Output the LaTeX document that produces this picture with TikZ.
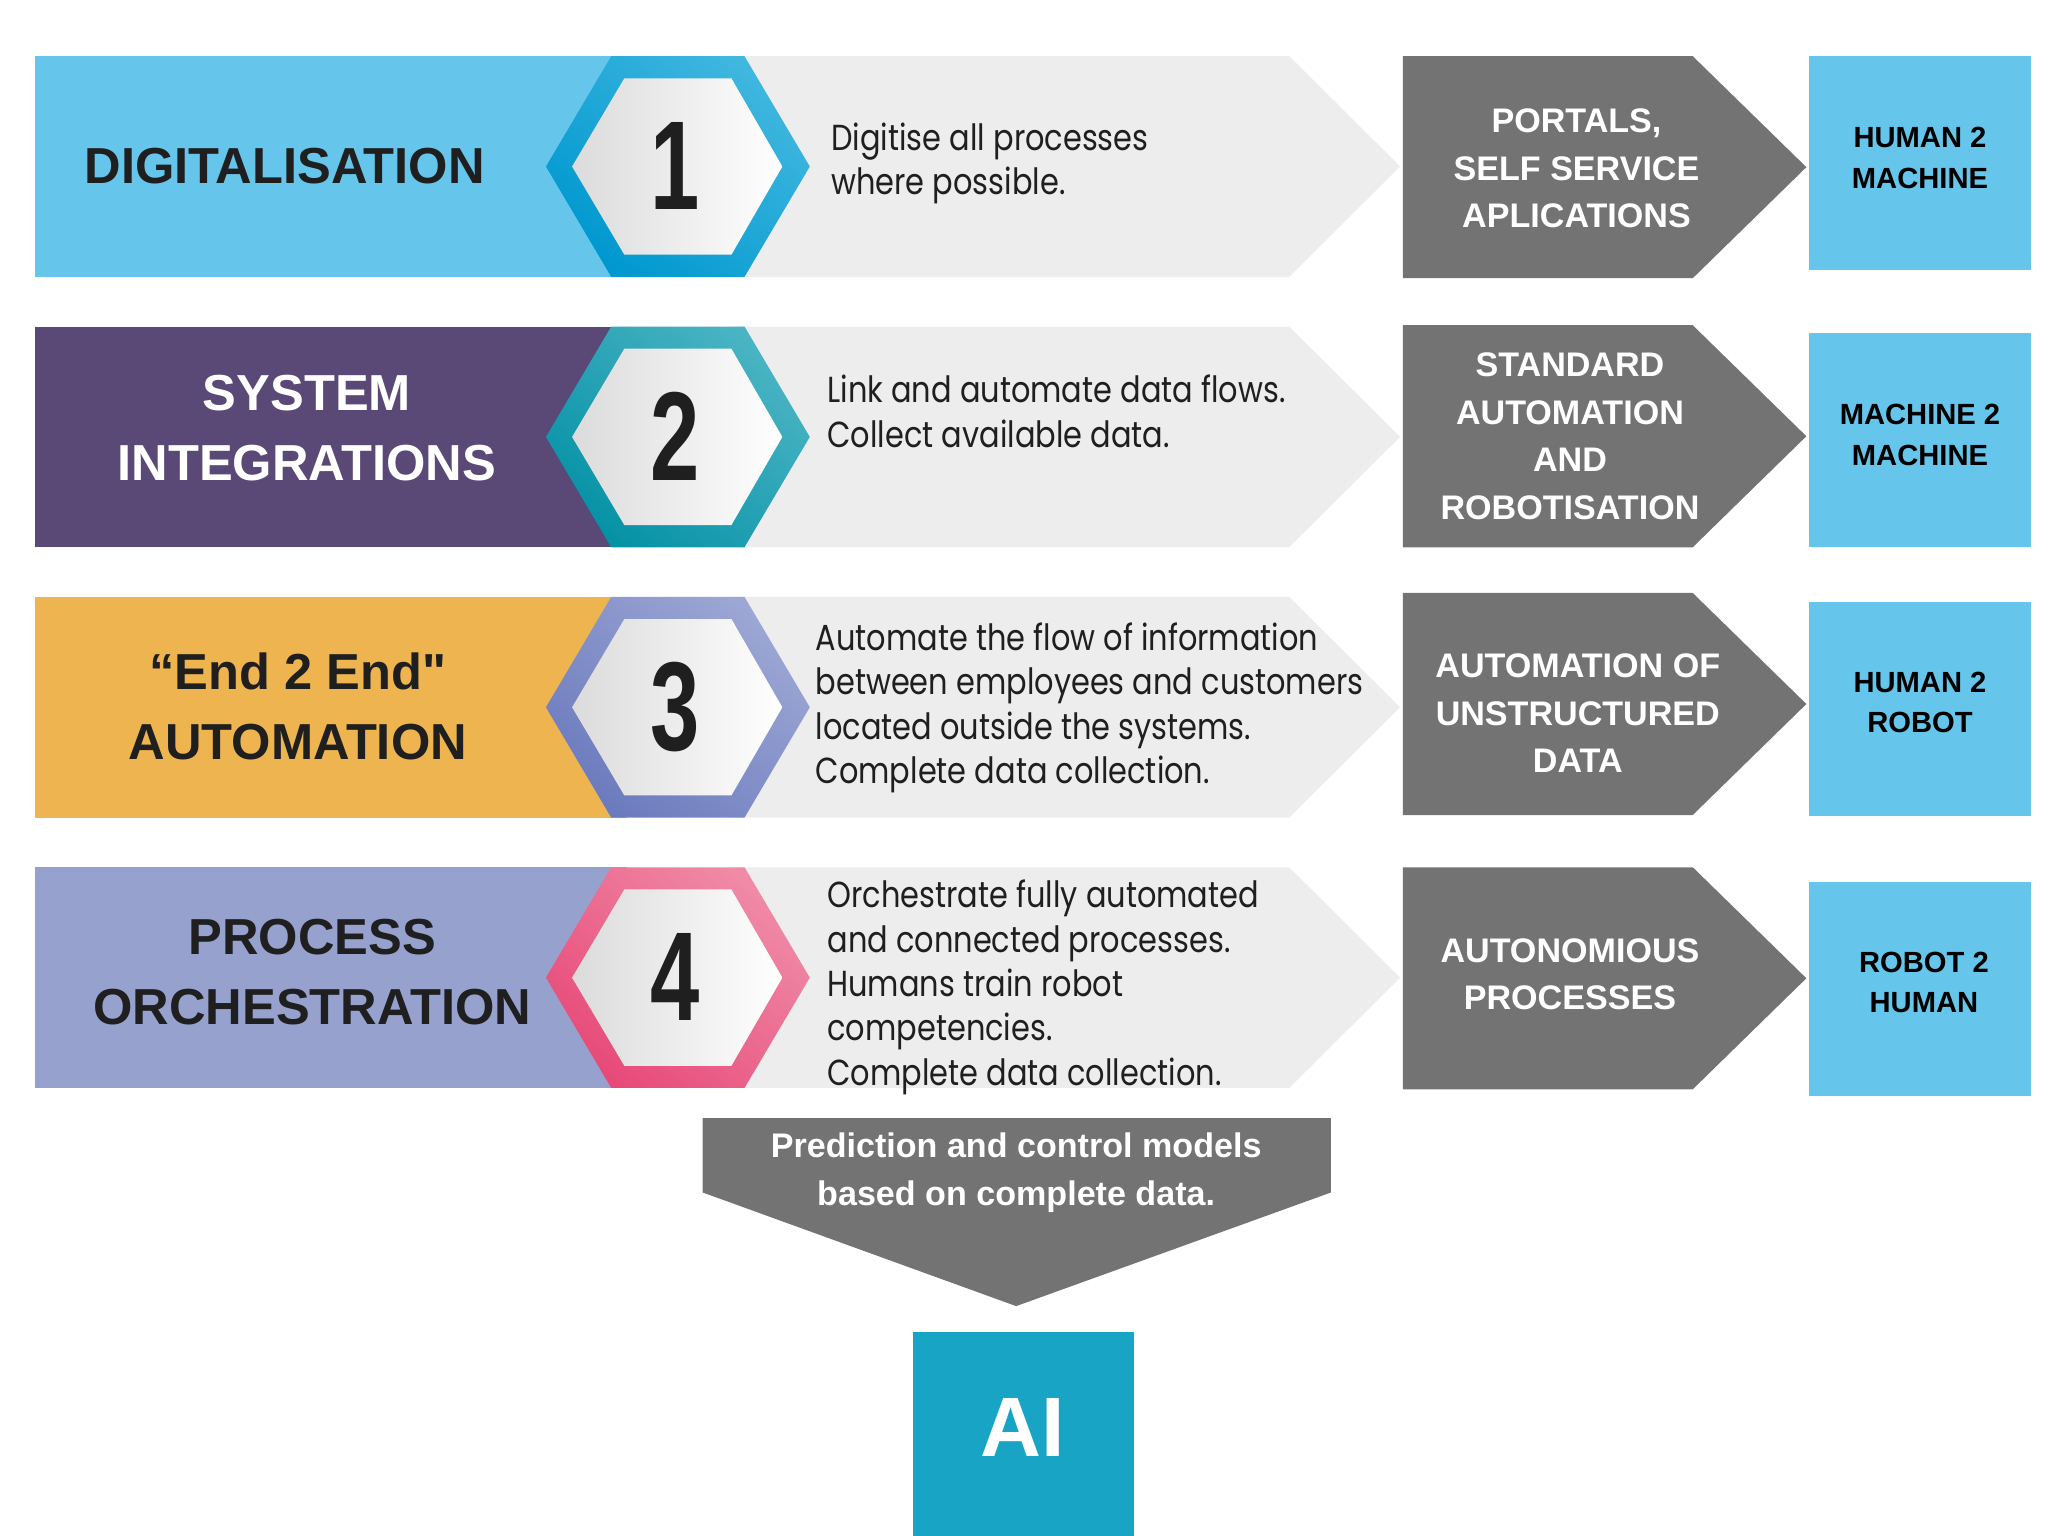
\documentclass[tikz,border=0pt]{standalone}
\usepackage{fontspec}
\setmainfont{Liberation Sans}[Ligatures=TeXOff]
\newfontfamily\descfont{Poppins}[FakeStretch=0.84]
\newfontfamily\numfont{Liberation Sans}[FakeStretch=0.70]

\definecolor{bandA}{HTML}{66C5EA}
\definecolor{bandB}{HTML}{5A4877}
\definecolor{bandC}{HTML}{EDB44F}
\definecolor{bandD}{HTML}{96A1CE}
\definecolor{hexAlo}{HTML}{0098CF}
\definecolor{hexAhi}{HTML}{40B7DF}
\definecolor{hexBlo}{HTML}{0692A6}
\definecolor{hexBhi}{HTML}{4AB4C4}
\definecolor{hexClo}{HTML}{6C7BBE}
\definecolor{hexChi}{HTML}{9CA7D4}
\definecolor{hexDlo}{HTML}{E74A79}
\definecolor{hexDhi}{HTML}{F08BA7}
\definecolor{arrowlight}{HTML}{EDEDED}
\definecolor{arrowdark}{HTML}{737373}
\definecolor{boxblue}{HTML}{66C5EA}
\definecolor{aiblue}{HTML}{18A4C5}
\definecolor{darktext}{HTML}{1F1F1F}

\tikzset{
	heading/.style = {font=\bfseries\fontsize{14.4}{20}\selectfont, align=center, text=darktext, inner sep=0pt},
	desc/.style = {font=\descfont\fontsize{10.3}{12.6}\selectfont, align=left, anchor=west, text=darktext, inner sep=0pt},
	digit/.style = {font=\numfont\bfseries\fontsize{36}{36}\selectfont, text=darktext, inner sep=0pt},
	stage/.style = {font=\bfseries\fontsize{9.7}{13.5}\selectfont, align=center, text=white, inner sep=0pt},
	relation/.style = {font=\bfseries\fontsize{8.3}{11.5}\selectfont, align=center, text=black, inner sep=0pt}
}

\begin{document}
\begin{tikzpicture}[x=0.01306cm, y=-0.01306cm]
	\useasboundingbox (0, 0) rectangle (1568, 1176);
	
	\foreach \t/\band/\lo/\hi in {43/bandA/hexAlo/hexAhi, 250/bandB/hexBlo/hexBhi, 457/bandC/hexClo/hexChi, 664/bandD/hexDlo/hexDhi} {
		\fill[\band] (27, \t) rectangle (480, \t+169);
		\fill[arrowlight] (560, \t) -- (987, \t) -- (1072, \t+84.5) -- (987, \t+169) -- (560, \t+169) -- cycle;
		\shade[bottom color = \lo, top color = \hi, shading angle = -40] (418, \t+84.5) -- (468, \t) -- (570, \t) -- (620, \t+84.5) -- (570, \t+169) -- (468, \t+169) -- cycle;
		\shade[left color = black!14, right color = white] (438, \t+84.5) -- (478, \t+17) -- (560, \t+17) -- (599, \t+84.5) -- (560, \t+152) -- (478, \t+152) -- cycle;
	}
	
	\foreach \t/\b in {43/43, 249/255, 454/461, 664/675} {
		\fill[arrowdark] (1074, \t) -- (1296, \t) -- (1383, \t+85) -- (1296, \t+170) -- (1074, \t+170) -- cycle;
		\fill[boxblue] (1385, \b) rectangle (1555, \b+164);
	}
	
	% row titles
	\node[heading] (digital) at (218, 127) {DIGITALISATION};
	\node[heading, text=white] (integr) at (235, 328) {SYSTEM\\INTEGRATIONS};
	\node[heading] (endend) at (228, 541) {“End 2 End"\\AUTOMATION};
	\node[heading] (orchest) at (239, 744) {PROCESS\\ORCHESTRATION};
	
	% numbers
	\node[digit] (one) at (517, 127) {1};
	\node[digit] (two) at (517, 334) {2};
	\node[digit] (three) at (517, 541) {3};
	\node[digit] (four) at (517, 748) {4};
	
	% descriptions
	\node[desc] (descA) at (636, 125) {Digitise all processes\\where possible.};
	\node[desc] (descB) at (633, 315) {Link and automate data flows.\\Collect available data.};
	\node[desc] (descC) at (624, 542) {Automate the flow of information\\between employees and customers\\located outside the systems.\\Complete data collection.};
	\node[desc] (descD) at (633, 756) {Orchestrate fully automated\\and connected processes.\\Humans train robot\\competencies.\\Complete data collection.};
	
	% levels
	\node[stage] (portals) at (1207, 129) {PORTALS,\\SELF SERVICE\\APLICATIONS};
	\node[stage] (standard) at (1202, 334) {STANDARD\\AUTOMATION\\AND\\ROBOTISATION};
	\node[stage] (unstruct) at (1208, 546) {AUTOMATION OF\\UNSTRUCTURED\\DATA};
	\node[stage] (autonom) at (1202, 746) {AUTONOMIOUS\\PROCESSES};
	
	% relations
	\node[relation] (humach) at (1470, 121) {HUMAN 2\\MACHINE};
	\node[relation] (machmach) at (1470, 333) {MACHINE 2\\MACHINE};
	\node[relation] (hurob) at (1470, 538) {HUMAN 2\\ROBOT};
	\node[relation] (robhu) at (1473, 752) {ROBOT 2\\HUMAN};
	
	% models and AI
	\fill[arrowdark] (538, 856) -- (1019, 856) -- (1019, 913) -- (778, 1000) -- (538, 913) -- cycle;
	\node[stage] (models) at (778, 898) {Prediction and control models\\based on complete data.};
	\fill[aiblue] (699, 1020) rectangle (868, 1176);
	\node[font=\bfseries\fontsize{24}{24}\selectfont, text=white, inner sep=0pt] (ai) at (783, 1093) {AI};
\end{tikzpicture}
\end{document}
